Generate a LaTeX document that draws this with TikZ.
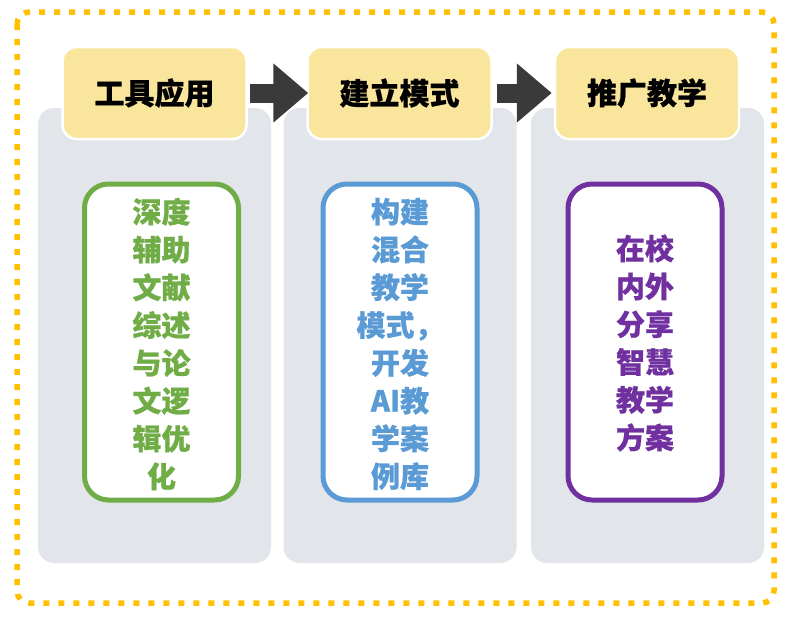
\documentclass[tikz,border=0pt]{standalone}
\usepackage{fontspec}
\newfontfamily\cjk{Noto Sans CJK SC}[BoldFeatures={FakeBold=0.6}]
\usetikzlibrary{arrows.meta}
\definecolor{borderor}{HTML}{FFC000}
\definecolor{panelgray}{HTML}{E2E5E9}
\definecolor{headyel}{HTML}{FAE59C}
\definecolor{arrowdark}{HTML}{3A3A3A}
\definecolor{cgreen}{HTML}{70AD47}
\definecolor{cblue}{HTML}{5B9BD5}
\definecolor{cpurple}{HTML}{7030A0}
\tikzset{
  panel/.style={fill=panelgray, rounded corners=16pt, minimum width=233pt, minimum height=455pt, inner sep=0pt},
  header/.style={fill=headyel, draw=white, line width=2.5pt, rounded corners=14pt, minimum width=184pt, minimum height=92pt, inner sep=0pt, font=\cjk\bfseries\fontsize{30}{36}\selectfont},
  inbox/.style={fill=white, line width=5pt, rounded corners=24pt, minimum width=154pt, minimum height=316pt, inner sep=0pt},
  intext/.style={align=center, inner sep=0pt, font=\cjk\bfseries\fontsize{29}{37.8}\selectfont},
  flow/.style={draw=arrowdark, line width=19pt, -{Triangle[width=57pt,length=35pt]}, arrowdark},
}
\begin{document}
\begin{tikzpicture}[x=1pt,y=-1pt]
\useasboundingbox (0,0) rectangle (791,621);
\fill[white] (0,0) rectangle (791,621);
% outer dotted frame
\draw[borderor, line width=5.5pt, dash pattern=on 6pt off 9pt, rounded corners=12pt]
  (17,12) rectangle (774,603);
% panels
\node[panel] (p1) at (154.5,335.5) {};
\node[panel] (p2) at (400,335.5) {};
\node[panel] (p3) at (647.5,335.5) {};
% headers
\node[header] (h1) at (154.5,93) {工具应用};
\node[header] (h2) at (399.5,93) {建立模式};
\node[header] (h3) at (647,93) {推广教学};
% arrows
\draw[flow] ([xshift=2pt]h1.east) -- ([xshift=2pt]h2.west);
\draw[flow] ([xshift=4pt]h2.east) -- ([xshift=-2pt]h3.west);
% inner boxes
\node[inbox, draw=cgreen] (b1) at (161.5,342) {};
\node[inbox, draw=cblue] (b2) at (400,342) {};
\node[inbox, draw=cpurple] (b3) at (645,342) {};
\node[intext, text=cgreen] (t1) at (161.5,344) {深度\\辅助\\文献\\综述\\与论\\文逻\\辑优\\化};
\node[intext, text=cblue] (t2) at (400,344) {构建\\混合\\教学\\模式，\\开发\\AI教\\学案\\例库};
\node[intext, text=cpurple] (t3) at (645,343) {在校\\内外\\分享\\智慧\\教学\\方案};
\end{tikzpicture}
\end{document}
